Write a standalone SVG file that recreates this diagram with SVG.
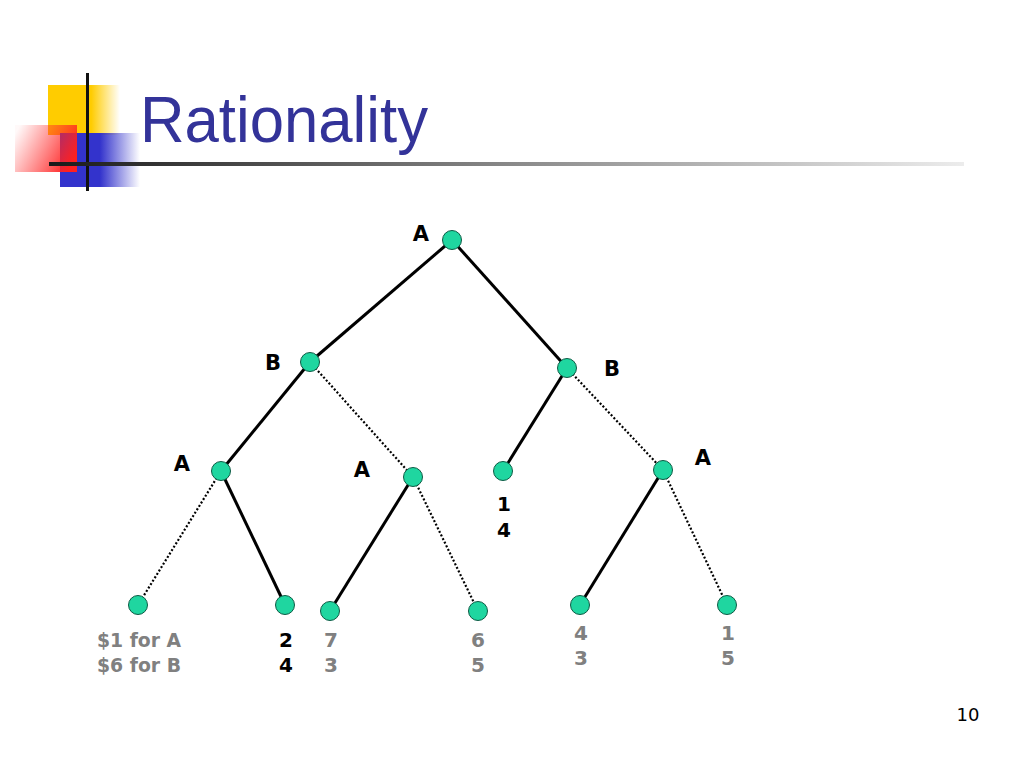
<svg xmlns="http://www.w3.org/2000/svg" width="1023" height="769" viewBox="0 0 1023 769">
<defs>
<linearGradient id="gY" x1="0" y1="0" x2="1" y2="0"><stop offset="0" stop-color="#ffcc00"/><stop offset="0.6" stop-color="#ffcc00"/><stop offset="1" stop-color="#ffcc00" stop-opacity="0"/></linearGradient>
<linearGradient id="gR" x1="0" y1="0.2" x2="1" y2="0.6"><stop offset="0" stop-color="#ff3333" stop-opacity="0.03"/><stop offset="1" stop-color="#ff2020"/></linearGradient>
<linearGradient id="gB" x1="0" y1="0" x2="1" y2="0"><stop offset="0" stop-color="#3333cc"/><stop offset="0.5" stop-color="#3333cc"/><stop offset="1" stop-color="#3333cc" stop-opacity="0"/></linearGradient>
<linearGradient id="gL" x1="0" y1="0" x2="1" y2="0"><stop offset="0" stop-color="#1a1a1a"/><stop offset="0.5" stop-color="#888"/><stop offset="1" stop-color="#ececec"/></linearGradient>
</defs>
<style>
.node{fill:#1fd6a0;stroke:#0d5a44;stroke-width:1}
.solid{stroke:#000;stroke-width:3;fill:none}
.dot{stroke:#000;stroke-width:2.2;stroke-dasharray:2 2;fill:none}
.lbl{font-family:"DejaVu Sans",Verdana,sans-serif;font-weight:bold;font-size:21px;fill:#000;text-anchor:middle}
.pay{font-family:"DejaVu Sans",Verdana,sans-serif;font-weight:bold;font-size:20px;fill:#808080;text-anchor:middle}
.payk{font-family:"DejaVu Sans",Verdana,sans-serif;font-weight:bold;font-size:20px;fill:#000;text-anchor:middle}
</style>
<rect width="1023" height="769" fill="#fff"/>
<g id="title-deco">
<rect x="48" y="85" width="72" height="50" fill="url(#gY)"/>
<rect x="60" y="133" width="80" height="54" fill="url(#gB)"/>
<rect x="15" y="125" width="62" height="47" fill="url(#gR)"/>
<rect x="86" y="73" width="3" height="118" fill="#111"/>
<rect x="49" y="162" width="915" height="4" fill="url(#gL)"/>
</g>
<text id="title" x="140" y="142" font-family="Liberation Sans,Tahoma,sans-serif" font-size="65" fill="#333399" textLength="288" lengthAdjust="spacingAndGlyphs">Rationality</text>
<g id="connectors">
<line class="solid" x1="452" y1="240" x2="310" y2="362"/>
<line class="solid" x1="452" y1="240" x2="567" y2="368"/>
<line class="solid" x1="310" y1="362" x2="221" y2="471"/>
<line class="dot" x1="310" y1="362" x2="413" y2="477"/>
<line class="solid" x1="567" y1="368" x2="503" y2="471"/>
<line class="dot" x1="567" y1="368" x2="663" y2="470"/>
<line class="dot" x1="221" y1="471" x2="138" y2="605"/>
<line class="solid" x1="221" y1="471" x2="285" y2="605"/>
<line class="solid" x1="413" y1="477" x2="330" y2="611"/>
<line class="dot" x1="413" y1="477" x2="478" y2="611"/>
<line class="solid" x1="663" y1="470" x2="580" y2="605"/>
<line class="dot" x1="663" y1="470" x2="727" y2="605"/>
</g>
<g id="n-root"><circle class="node" cx="452" cy="240" r="9.5"/><text class="lbl" x="421" y="241">A</text></g>
<g id="n-bl"><circle class="node" cx="310" cy="362" r="9.5"/><text class="lbl" x="273" y="370">B</text></g>
<g id="n-br"><circle class="node" cx="567" cy="368" r="9.5"/><text class="lbl" x="612" y="376">B</text></g>
<g id="n-al"><circle class="node" cx="221" cy="471" r="9.5"/><text class="lbl" x="182" y="471">A</text></g>
<g id="n-am"><circle class="node" cx="413" cy="477" r="9.5"/><text class="lbl" x="362" y="477">A</text></g>
<g id="n-t14"><circle class="node" cx="503" cy="471" r="9.5"/><text class="payk" x="504" y="511">1</text><text class="payk" x="504" y="537">4</text></g>
<g id="n-ar"><circle class="node" cx="663" cy="470" r="9.5"/><text class="lbl" x="703" y="465">A</text></g>
<g id="n-l1"><circle class="node" cx="138" cy="605" r="9.5"/><text class="pay" x="139" y="647" textLength="84" lengthAdjust="spacingAndGlyphs">$1 for A</text><text class="pay" x="139" y="672" textLength="84" lengthAdjust="spacingAndGlyphs">$6 for B</text></g>
<g id="n-l2"><circle class="node" cx="285" cy="605" r="9.5"/><text class="payk" x="286" y="647">2</text><text class="payk" x="286" y="672">4</text></g>
<g id="n-l3"><circle class="node" cx="330" cy="611" r="9.5"/><text class="pay" x="331" y="647">7</text><text class="pay" x="331" y="672">3</text></g>
<g id="n-l4"><circle class="node" cx="478" cy="611" r="9.5"/><text class="pay" x="478" y="647">6</text><text class="pay" x="478" y="672">5</text></g>
<g id="n-l5"><circle class="node" cx="580" cy="605" r="9.5"/><text class="pay" x="581" y="640">4</text><text class="pay" x="581" y="665">3</text></g>
<g id="n-l6"><circle class="node" cx="727" cy="605" r="9.5"/><text class="pay" x="728" y="640">1</text><text class="pay" x="728" y="665">5</text></g>
<text x="968" y="721" font-family="DejaVu Sans,Tahoma,sans-serif" font-size="18" fill="#000" text-anchor="middle">10</text>
</svg>
